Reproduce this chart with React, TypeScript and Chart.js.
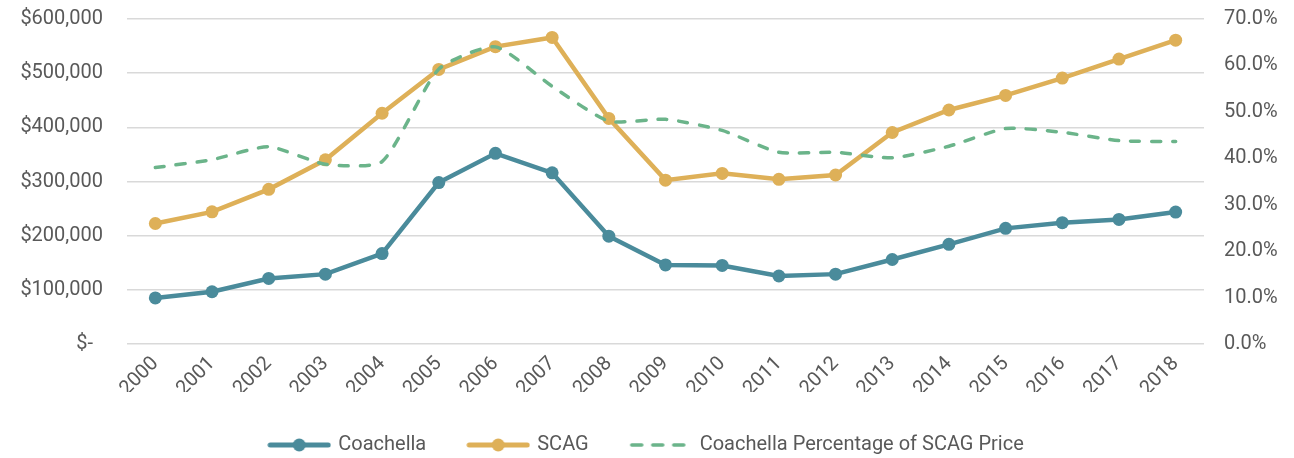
import React, { useEffect, useRef } from "react";
import { Chart, registerables } from "chart.js";

Chart.register(...registerables);

const years = ["2000", "2001", "2002", "2003", "2004", "2005", "2006", "2007", "2008", "2009", "2010", "2011", "2012", "2013", "2014", "2015", "2016", "2017", "2018"];
const coachella = [85000, 96500, 121000, 129000, 167000, 298000, 352000, 316000, 199000, 146000, 145000, 125500, 129000, 156000, 184000, 213500, 224000, 230000, 243500];
const scag = [222500, 244000, 285500, 340000, 426000, 507000, 549000, 566000, 416500, 302500, 315000, 304000, 312000, 390500, 432000, 459000, 491000, 526000, 561000];
const pctOfScag = [38.0, 39.7, 42.5, 38.7, 39.3, 59.2, 64.0, 55.5, 48.0, 48.4, 46.0, 41.3, 41.3, 40.1, 42.6, 46.4, 45.6, 43.8, 43.6];

const seriesNames = ["Coachella", "SCAG", "Coachella Percentage of SCAG Price"];
const colors = ["#4A8B9B", "#DEB058", "#6BB48A"];

const FONT = "Roboto, 'Liberation Sans', sans-serif";
const TEXT = "#595959";

function legendImage(color: string, dashed: boolean): HTMLCanvasElement {
  const c = document.createElement("canvas");
  c.width = 64;
  c.height = 16;
  const ctx = c.getContext("2d")!;
  ctx.strokeStyle = color;
  ctx.lineCap = "round";
  if (dashed) {
    ctx.lineWidth = 3.5;
    ctx.setLineDash([10, 11]);
    ctx.beginPath();
    ctx.moveTo(3, 8);
    ctx.lineTo(62, 8);
    ctx.stroke();
  } else {
    ctx.lineWidth = 5;
    ctx.beginPath();
    ctx.moveTo(3, 8);
    ctx.lineTo(61, 8);
    ctx.stroke();
    ctx.fillStyle = color;
    ctx.beginPath();
    ctx.arc(32, 8, 6.5, 0, Math.PI * 2);
    ctx.fill();
  }
  return c;
}

export default function App() {
  const ref = useRef<HTMLCanvasElement | null>(null);

  useEffect(() => {
    if (!ref.current) return;
    const imgs = [legendImage(colors[0], false), legendImage(colors[1], false), legendImage(colors[2], true)];
    const chart = new Chart(ref.current, {
      type: "line",
      data: {
        labels: years,
        datasets: [
          {
            label: seriesNames[0],
            data: coachella,
            yAxisID: "y",
            borderColor: colors[0],
            backgroundColor: colors[0],
            borderWidth: 4.5,
            pointRadius: 6.5,
            pointHoverRadius: 6.5,
            pointBackgroundColor: colors[0],
            pointBorderWidth: 0,
            tension: 0,
            order: 2,
          },
          {
            label: seriesNames[1],
            data: scag,
            yAxisID: "y",
            borderColor: colors[1],
            backgroundColor: colors[1],
            borderWidth: 4.5,
            pointRadius: 6.5,
            pointHoverRadius: 6.5,
            pointBackgroundColor: colors[1],
            pointBorderWidth: 0,
            tension: 0,
            order: 1,
          },
          {
            label: seriesNames[2],
            data: pctOfScag,
            yAxisID: "y1",
            borderColor: colors[2],
            backgroundColor: colors[2],
            borderWidth: 3.5,
            borderDash: [9, 12],
            borderCapStyle: "round",
            pointRadius: 0,
            tension: 0.2,
            order: 0,
          },
        ],
      },
      options: {
        animation: false,
        responsive: false,
        maintainAspectRatio: false,
        layout: { padding: { top: 19, left: 0, right: 0, bottom: 0 } },
        plugins: {
          tooltip: { enabled: false },
          legend: {
            position: "bottom",
            labels: {
              usePointStyle: true,
              pointStyleWidth: 58,
              padding: 43,
              color: TEXT,
              font: { family: FONT, size: 20 },
              generateLabels: () =>
                seriesNames.map((n, i) => ({
                  text: n,
                  pointStyle: imgs[i],
                  datasetIndex: i,
                  hidden: false,
                  fillStyle: colors[i],
                  strokeStyle: colors[i],
                  lineWidth: 0,
                  fontColor: TEXT,
                })),
            },
          },
        },
        scales: {
          x: {
            offset: true,
            grid: { display: false, drawTicks: false },
            border: { display: false },
            ticks: {
              color: TEXT,
              font: { family: FONT, size: 20 },
              maxRotation: 45,
              minRotation: 45,
              autoSkip: false,
              padding: 8,
            },
            afterFit: (s: any) => {
              s.height = 48;
            },
          },
          y: {
            position: "left",
            min: 0,
            max: 600000,
            grid: { color: "#D9D9D9", lineWidth: 1.5, drawTicks: false },
            border: { display: false },
            ticks: {
              stepSize: 100000,
              color: TEXT,
              font: { family: FONT, size: 20 },
              padding: 24,
              callback: (v: any) => (Number(v) === 0 ? "$-  " : "$" + Number(v).toLocaleString("en-US")),
            },
            afterFit: (s: any) => {
              s.width = 127;
              s.paddingTop = 0;
              s.paddingBottom = 0;
            },
          },
          y1: {
            position: "right",
            min: 0,
            max: 70,
            grid: { display: false, drawTicks: false },
            border: { display: false },
            ticks: {
              stepSize: 10,
              color: TEXT,
              font: { family: FONT, size: 20 },
              padding: 20,
              callback: (v: any) => Number(v).toFixed(1) + "%",
            },
            afterFit: (s: any) => {
              s.width = 90;
              s.paddingTop = 0;
              s.paddingBottom = 0;
            },
          },
        },
      },
    });
    return () => chart.destroy();
  }, []);

  return (
    <div style={{ position: "fixed", left: 0, top: 0, width: 1294, height: 458, overflow: "hidden", background: "#fff" }}>
      <canvas ref={ref} width={1294} height={465} style={{ width: 1294, height: 465, display: "block" }} />
    </div>
  );
}
